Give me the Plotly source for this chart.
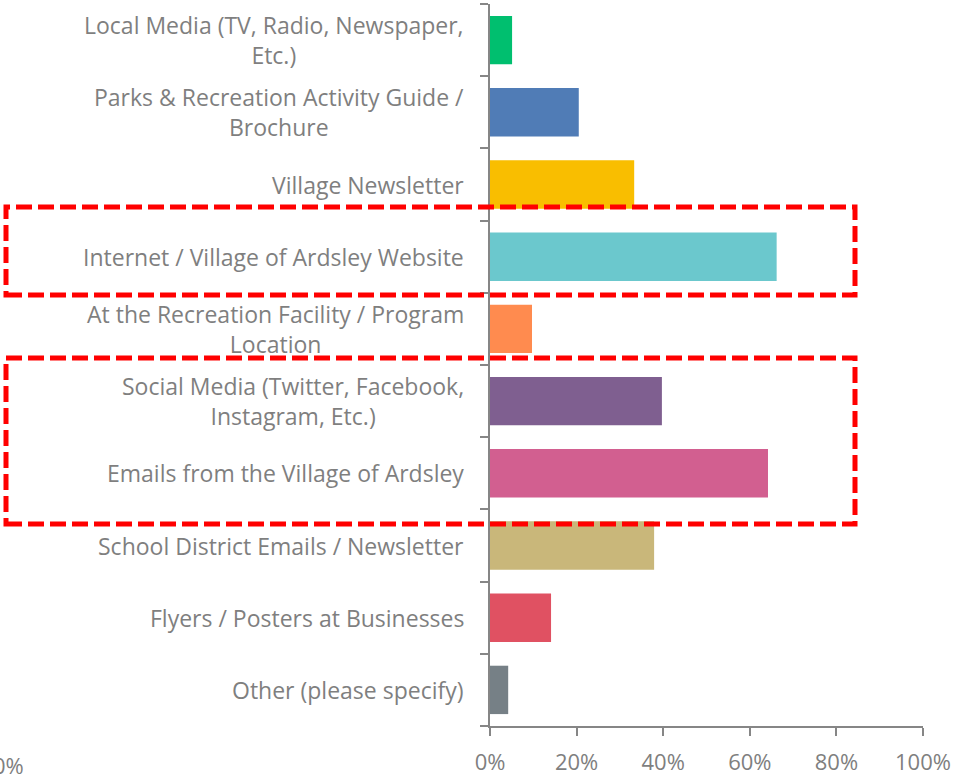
import plotly.graph_objects as go

categories = [
    "Local Media (TV, Radio, Newspaper,<br>Etc.)",
    "Parks & Recreation Activity Guide /<br>Brochure",
    "Village Newsletter",
    "Internet / Village of Ardsley Website",
    "At the Recreation Facility / Program<br>Location",
    "Social Media (Twitter, Facebook,<br>Instagram, Etc.)",
    "Emails from the Village of Ardsley",
    "School District Emails / Newsletter",
    "Flyers / Posters at Businesses",
    "Other (please specify)",
]
values = [5.1, 20.5, 33.3, 66.2, 9.7, 39.7, 64.2, 37.9, 14.1, 4.2]
colors = ["#00BF6F", "#507CB6", "#F9BE00", "#6BC8CD", "#FF8B4F",
          "#7F5F90", "#D25F90", "#C9B77A", "#E05162", "#768086"]
x_ticks = [0, 20, 40, 60, 80, 100]
x_tick_labels = ["0%", "20%", "40%", "60%", "80%", "100%"]

W, H = 959, 778
L, R, T, B = 490, 36, 4, 52
PW, PH = W - L - R, H - T - B
TEXT = "#7F7F7F"
FONT = "Open Sans"
FS = 23
TFS = 22

def px(x):
    return (x - L) / PW

def py(y):
    return (H - B - y) / PH

fig = go.Figure(go.Bar(
    y=list(range(len(categories))), x=values, orientation="h",
    marker=dict(color=colors, line=dict(width=0)),
    hoverinfo="x",
))

annotations = []
for i, cat in enumerate(categories):
    annotations.append(dict(
        x=0, xref="paper", y=i, yref="y", text=cat, showarrow=False,
        xanchor="right", yanchor="middle", align="center", xshift=-24,
        font=dict(family=FONT, size=FS, color=TEXT),
    ))
# stray fragment at bottom-left
annotations.append(dict(
    x=px(26), xref="paper", y=py(765), yref="paper", text="0%", showarrow=False,
    xanchor="right", yanchor="middle", font=dict(family=FONT, size=TFS, color=TEXT),
))

dash = "16px,6px"
shapes = [
    dict(type="rect", xref="paper", yref="paper",
         x0=px(6), x1=px(855), y0=py(295), y1=py(207),
         line=dict(color="#FF0000", width=5, dash=dash)),
    dict(type="rect", xref="paper", yref="paper",
         x0=px(6), x1=px(855), y0=py(524), y1=py(358),
         line=dict(color="#FF0000", width=5, dash=dash)),
]

fig.update_layout(
    width=W, height=H,
    margin=dict(l=L, r=R, t=T, b=B, autoexpand=False),
    paper_bgcolor="white", plot_bgcolor="white",
    bargap=0.33,
    showlegend=False,
    annotations=annotations,
    shapes=shapes,
    font=dict(family=FONT, size=FS, color=TEXT),
)
fig.update_xaxes(
    range=[0, 100], tickvals=x_ticks, ticktext=x_tick_labels,
    ticks="outside", ticklen=8, tickwidth=1.5, tickcolor="#868686",
    ticklabelstandoff=8,
    showline=True, linecolor="#868686", linewidth=1.5,
    showgrid=False, zeroline=False,
    tickfont=dict(family=FONT, size=TFS, color=TEXT),
)
fig.update_yaxes(
    type="linear", range=[len(categories) - 0.5, -0.5],
    tickvals=[k - 0.5 for k in range(len(categories) + 1)],
    showticklabels=False,
    ticks="outside", ticklen=8, tickwidth=1.5, tickcolor="#868686",
    showline=True, linecolor="#868686", linewidth=1.5,
    showgrid=False, zeroline=False,
)

fig.write_html("out.html", config={"displayModeBar": False},
               post_script="document.body.style.margin='0';")
